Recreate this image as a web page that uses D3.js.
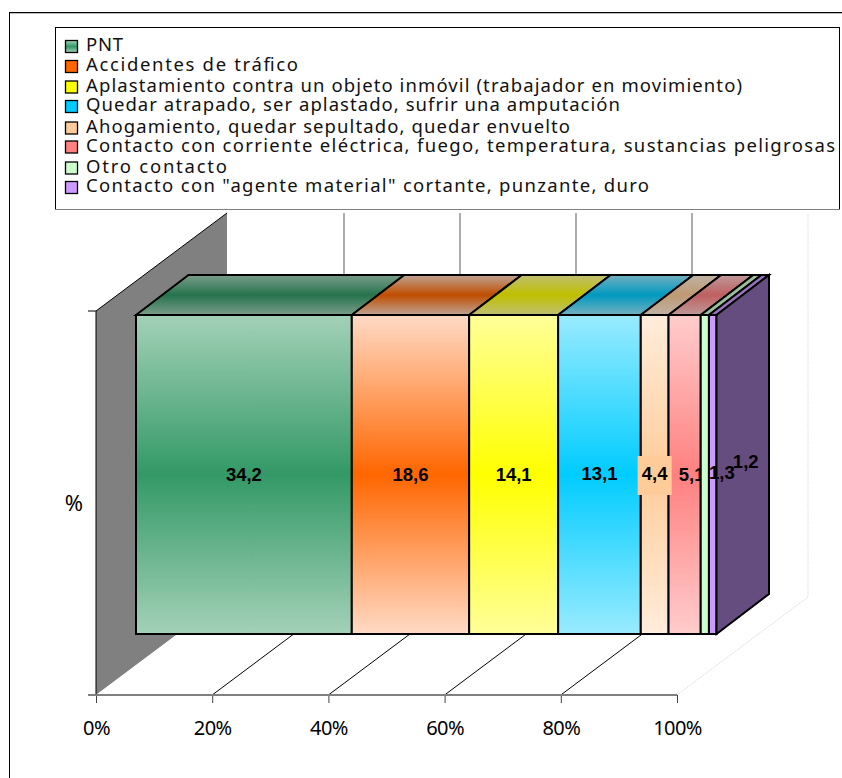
<!DOCTYPE html>
<html><head><meta charset="utf-8">
<script src="https://cdn.jsdelivr.net/npm/d3@7"></script>
<style>html,body{margin:0;padding:0;background:#fff}svg{display:block}</style>
</head><body><svg id="c" width="842" height="778"></svg>
<script>
const categories = ["PNT","Accidentes de tráfico","Aplastamiento contra un objeto inmóvil (trabajador en movimiento)","Quedar atrapado, ser aplastado, sufrir una amputación","Ahogamiento, quedar sepultado, quedar envuelto","Contacto con corriente eléctrica, fuego, temperatura, sustancias peligrosas","Otro contacto","Contacto con \"agente material\" cortante, punzante, duro"];
const values = [34.2,18.6,14.1,13.1,4.4,5.1,1.3,1.2];
const valueLabels = ["34,2","18,6","14,1","13,1","4,4","5,1","1,3","1,2"];
const colors = ["#339966","#FF6600","#FFFF00","#00CCFF","#FFCC99","#FF8080","#CCFFCC","#CC99FF"];
const edgeColors = ["#A3D1B8","#FFDAC5","#FFFF99","#99EBFF","#FFEDDB","#FFCCCC","#CCFFCC","#CC99FF"];
const tickValues = [0,0.2,0.4,0.6,0.8,1];
const yAxisTitle = "%";

const W=842,H=778;
const svg=d3.select("#c");
const defs=svg.append("defs");
const uiFont="'Noto Sans',sans-serif";
const labelFont="'Liberation Sans',Arial,sans-serif";

const floorLeft=96,floorRight=677,floorY=695,wallTop=311;
const depthX=131,depthY=98;
const barFront=[136,716.5],barTop=315,barBottom=634,barDX=52.5,barDY=40;

const axisScale=d3.scaleLinear().domain([0,1]).range([floorLeft,floorRight]);
const backScale=d3.scaleLinear().domain([0,1]).range([floorLeft+depthX+1,floorRight+depthX]);
const barScale=d3.scaleLinear().domain([0,1]).range(barFront);
const row=[{}];categories.forEach((c,i)=>row[0][c]=values[i]);
const stacked=d3.stack().keys(categories).offset(d3.stackOffsetExpand)(row);

// outer frame: only the left and top edges show
const line=d3.line();
svg.append("line").attr("x1",9.5).attr("x2",W).attr("y1",12.5).attr("y2",12.5).attr("stroke","#000");
svg.append("line").attr("x1",10).attr("x2",W).attr("y1",13.5).attr("y2",13.5).attr("stroke","#bbb");
svg.append("line").attr("x1",9.5).attr("x2",9.5).attr("y1",12).attr("y2",H).attr("stroke","#000");

// walls
svg.append("path").attr("d",line([[floorLeft,wallTop],[floorLeft+depthX,wallTop-depthY],[floorLeft+depthX,floorY-depthY],[floorLeft,floorY]])+"Z").attr("fill","#808080");
svg.append("path").attr("d",line([[floorLeft,floorY],[floorLeft,wallTop],[floorLeft+depthX,wallTop-depthY]])).attr("fill","none").attr("stroke","#000");
svg.append("path").attr("d",line([[floorLeft,floorY],[floorLeft+depthX,floorY-depthY],[floorRight+depthX,floorY-depthY],[floorRight,floorY]])+"Z").attr("fill","#fff");
svg.append("path").attr("d",line([[floorRight,floorY],[floorRight+depthX,floorY-depthY],[floorRight+depthX,wallTop-depthY]])).attr("fill","none").attr("stroke","#dcdcdc").attr("stroke-dasharray","1.5 1");

// back gridlines + floor gridlines
tickValues.slice(1,-1).forEach(t=>{
  const x=axisScale(t);
  svg.append("line").attr("x1",backScale(t)).attr("x2",backScale(t)).attr("y1",wallTop-depthY).attr("y2",barTop-barDY).attr("stroke","#808080").attr("stroke-width",1.3);
  const dy=floorY-barBottom;
  svg.append("line").attr("x1",x).attr("y1",floorY).attr("x2",x+dy*depthX/depthY).attr("y2",barBottom).attr("stroke","#000").attr("stroke-width",1);
});

// axis
const axisG=svg.append("g").attr("transform",`translate(0,${floorY})`).call(d3.axisBottom(axisScale).tickValues(tickValues).tickFormat(d3.format(".0%")).tickSize(8).tickPadding(0));
axisG.select(".domain").remove();
axisG.selectAll("line").attr("stroke","#444");
axisG.selectAll("text").attr("font-family",uiFont).attr("font-size",20).attr("letter-spacing",-0.6).attr("fill","#000").attr("dy",null).attr("y",40);
svg.append("line").attr("x1",floorLeft-8).attr("x2",floorRight).attr("y1",floorY).attr("y2",floorY).attr("stroke","#808080").attr("stroke-width",2);
svg.append("line").attr("x1",floorLeft-8).attr("x2",floorLeft).attr("y1",wallTop).attr("y2",wallTop).attr("stroke","#000");
svg.append("text").attr("x",74).attr("y",511).attr("text-anchor","middle").attr("font-family",uiFont).attr("font-size",22).text(yAxisTitle);

// gradients
const dark=(c,k)=>{const r=d3.rgb(c);return d3.rgb(r.r*k,r.g*k,r.b*k).formatHex();};
colors.forEach((c,i)=>{
  [["f",1],["t",0.75]].forEach(([p,k])=>{
    const g=defs.append("linearGradient").attr("id",p+i).attr("x1",0).attr("x2",0).attr("y1",0).attr("y2",1);
    const edge=dark(edgeColors[i],k),mid=dark(c,k);
    g.append("stop").attr("offset","0%").attr("stop-color",edge);
    g.append("stop").attr("offset","50%").attr("stop-color",mid);
    g.append("stop").attr("offset","100%").attr("stop-color",edge);
  });
});

// bars
const style=s=>s.attr("stroke","#000").attr("stroke-width",2).attr("stroke-linejoin","miter");
function drawBar(s,i){
  const x0=barScale(s[0][0]),x1=barScale(s[0][1]);
  style(svg.append("path").attr("d",line([[x0,barTop],[x0+barDX,barTop-barDY],[x1+barDX,barTop-barDY],[x1,barTop]])+"Z").attr("fill",`url(#t${i})`));
  style(svg.append("rect").attr("x",x0).attr("y",barTop).attr("width",x1-x0).attr("height",barBottom-barTop).attr("fill",`url(#f${i})`));
  if(i===stacked.length-1){
    style(svg.append("path").attr("d",line([[x1,barTop],[x1+barDX,barTop-barDY],[x1+barDX,barBottom-barDY],[x1,barBottom]])+"Z").attr("fill",dark(colors[i],0.5)));
  }
}
const labelNudge=[[0,0],[0,0],[0,0],[0,-1],[0,-1],[7,0],[17,-2],[33,-13]];
function drawLabel(s,i){
  const x=(barScale(s[0][0])+barScale(s[0][1]))/2+labelNudge[i][0];
  const y=481+labelNudge[i][1];
  if(i===4) svg.append("rect").attr("x",x-17).attr("y",456).attr("width",34).attr("height",39).attr("fill",colors[4]);
  svg.append("text").attr("x",x).attr("y",y).attr("text-anchor","middle").attr("font-family",labelFont).attr("font-weight","bold").attr("font-size",18.5).attr("fill","#000").text(valueLabels[i]);
}
stacked.slice(0,6).forEach(drawBar);
stacked.slice(0,6).forEach(drawLabel);
stacked.slice(6).forEach((s,i)=>drawBar(s,i+6));
stacked.slice(6).forEach((s,i)=>drawLabel(s,i+6));

// legend
svg.append("rect").attr("x",55.5).attr("y",27.5).attr("width",784).attr("height",182).attr("fill","#fff").attr("stroke","#000");
svg.append("line").attr("x1",55).attr("x2",840).attr("y1",209.5).attr("y2",209.5).attr("stroke","#808080");
const baselines=[51,71,91.5,111,132.5,151.5,172.5,192];
const legendWidths=[37,212,656,534,484,749,141,563];
categories.forEach((t,i)=>{
  const y=baselines[i];
  svg.append("rect").attr("fill",i===0?`url(#f0)`:colors[i]).attr("x",65.5).attr("y",y-10.5).attr("width",12).attr("height",12).attr("stroke","#000").attr("stroke-width",1.3);
  svg.append("text").attr("x",86).attr("y",y).attr("font-family",uiFont).attr("font-size",18.5).attr("fill","#111").attr("textLength",legendWidths[i]).attr("lengthAdjust","spacing").text(t);
});
</script></body></html>
